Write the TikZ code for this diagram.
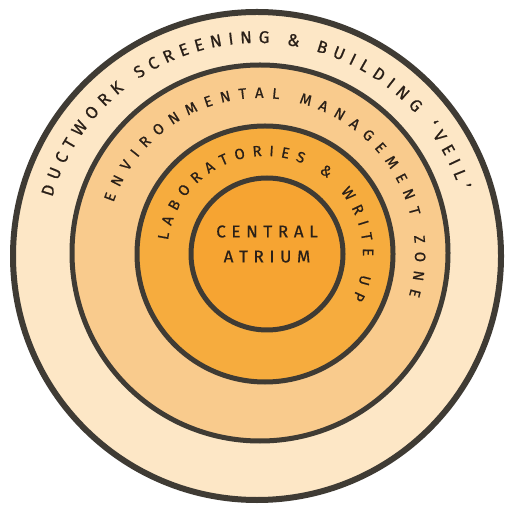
\documentclass[tikz,border=0pt]{standalone}
\usepackage{fontspec}
\newfontfamily\hand{Fira Sans}[FakeBold=0.7]
\usetikzlibrary{decorations.text}
\definecolor{ring1}{HTML}{FDE7C6}
\definecolor{ring2}{HTML}{F9CB8D}
\definecolor{ring3}{HTML}{F6AC3E}
\definecolor{ring4}{HTML}{F6A432}
\definecolor{rim}{HTML}{3F3B34}
\definecolor{ink}{HTML}{2A2018}
\tikzset{
  ringshape/.style={draw=rim, line width=#1},
  arctext/.style={decorate, decoration={text along path, text align=fit to path, text color=ink, text={#1}}},
}
\begin{document}
\begin{tikzpicture}[x=1pt,y=1pt]
\useasboundingbox (0,0) rectangle (513,511);
\fill[white] (0,0) rectangle (513,511);
\coordinate (c1) at (257,255);
\coordinate (c2) at (260,258);
\coordinate (c3) at (265,257);
\coordinate (c4) at (267,257);
\fill[ring1, ringshape=6pt] (c1) circle[radius=244];
\fill[ring2, ringshape=5pt] (c2) circle[radius=188];
\fill[ring3, ringshape=5pt] (c3) circle[radius=128];
\fill[ring4, ringshape=5pt] (c4) circle[radius=76];
% ring texts
\path[arctext={|\hand\fontsize{17}{17}\selectfont|DUCTWORK SCREENING {\&} BUILDING ‘VEIL’}]
  ([shift={(164:213)}]c1) arc[start angle=164, end angle=18, radius=213];
\path[arctext={|\hand\fontsize{15}{15}\selectfont|ENVIRONMENTAL MANAGEMENT ZONE}]
  ([shift={(161:155)}]c2) arc[start angle=161, end angle=-16, radius=155];
\path[arctext={|\hand\fontsize{15}{15}\selectfont|LABORATORIES {\&} WRITE UP}]
  ([shift={(172:98)}]c3) arc[start angle=172, end angle=-27, radius=98];
% centre label
\node[font=\hand\fontsize{17}{25}\selectfont, text=ink, align=center] (atrium) at (267,267) {C\,\,E\,\,N\,\,T\,\,R\,\,A\,\,L\\A\,\,T\,\,R\,\,I\,\,U\,\,M};
\end{tikzpicture}
\end{document}
